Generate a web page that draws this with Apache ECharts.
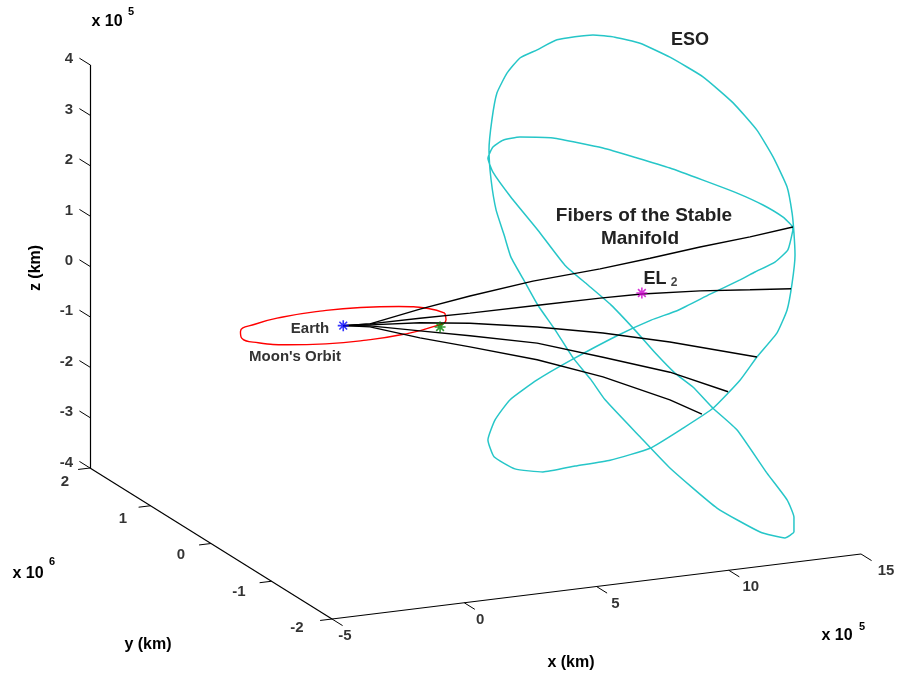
<!DOCTYPE html>
<html>
<head>
<meta charset="utf-8">
<script src="https://cdn.jsdelivr.net/npm/echarts@6/dist/echarts.min.js"></script>
<style>html,body{margin:0;padding:0;background:#fff}#c{width:904px;height:683px}</style>
</head>
<body>
<div id="c"></div>
<script>
// ---- data (x, y, z in units of 1e5 km; the y axis is labelled in 1e6 km) ----
const xTicks = [-5, 0, 5, 10, 15];          // x 10^5
const yTicks = [-2, -1, 0, 1, 2];           // x 10^6
const zTicks = [-4, -3, -2, -1, 0, 1, 2, 3, 4]; // x 10^5

const earth = [0, 0, 0];
const moon = [2.99, -2.93, 0];
const el2 = [11.29, 0, -0.08];

const moonOrbit = [
  [3.84,0,0],[3.55,1.47,0],[2.72,2.72,0],[1.47,3.55,0],[0,3.84,0],[-1.47,3.55,0],
  [-2.72,2.72,0],[-3.55,1.47,0],[-3.84,0,0],[-3.55,-1.47,0],[-2.72,-2.72,0],
  [-1.47,-3.55,0],[0,-3.84,0],[1.47,-3.55,0],[2.72,-2.72,0],[3.55,-1.47,0],[3.84,0,0]
];

const eso = [
  [17.00,0,0.80],[16.81,0,0.42],[16.32,0,0.21],[15.57,0,0.06],[15.00,0,-0.06],[13.87,0,-0.27],
  [12.66,0,-0.51],[11.64,0,-0.64],[10.39,0,-0.86],[8.61,0,-1.24],[7.33,0,-1.55],[6.30,0,-1.88],
  [5.74,0,-2.24],[5.47,0,-2.62],[5.70,0,-2.97],[6.49,0,-3.26],[7.55,0,-3.39],[8.76,0,-3.35],
  [10.09,0,-3.32],[11.60,0,-3.18],[12.85,0,-2.86],[13.98,0,-2.54],[15.00,0,-2.05],[15.64,0,-1.63],
  [16.40,0,-1.20],[16.78,0,-0.77],[16.97,0,-0.25],[17.08,0,0.30],[17.04,0,0.74],[16.97,0,1.14],
  [16.78,0,1.67],[16.25,0,2.30],[15.64,0,2.87],[14.74,0,3.47],[13.60,0,4.06],[12.35,0,4.53],
  [11.22,0,4.88],[10.27,0,5.06],[9.44,0,5.16],[8.08,0,5.15],[7.33,0,5.00],[6.68,0,4.88],
  [6.19,0,4.61],[5.81,0,4.24],[5.62,0,3.72],[5.51,0,3.13],[5.59,0,2.53],[5.78,0,1.92],
  [6.08,0,1.41],[6.34,0,0.95],[6.87,0,0.42],[7.36,0,-0.07],[8.01,0,-0.60],[8.69,0,-1.20],
  [9.37,0,-1.68],[9.90,0,-2.11],[11.22,0,-2.93],[12.35,0,-3.62],[14.13,0,-4.53],[15.76,0,-5.11],
  [16.70,0,-5.29],[17.04,0,-5.19],[17.04,0,-4.90],[16.78,0,-4.54],[16.02,0,-3.96],[14.89,0,-3.03],
  [13.98,0,-2.54],[13.22,0,-2.07],[12.54,0,-1.75],[11.79,0,-1.30],[11.03,0,-0.80],[10.12,0,-0.24],
  [9.25,0,0.21],[8.38,0,0.66],[7.36,0,1.42],[6.34,0,2.14],[5.66,0,2.68],[5.47,0,2.97],
  [5.66,0,3.18],[6.04,0,3.29],[6.68,0,3.31],[7.93,0,3.21],[9.82,0,2.89],[11.11,0,2.61],
  [12.35,0,2.33],[13.60,0,2.01],[14.89,0,1.67],[15.87,0,1.37],[16.63,0,1.08],[16.97,0,0.88],
  [17.00,0,0.80]
];

const fiber1 = [[0,0,0],[1.01,0,-0.03],[2.90,0,0.14],[4.79,0,0.28],[7.17,0,0.42],[9.71,0,0.50],[11.60,0,0.59],[13.49,0,0.69],[15.38,0,0.77],[17.00,0,0.86]];
const fiber2 = [[0,0,0],[1.01,0,-0.03],[2.90,0,-0.04],[4.79,0,-0.06],[7.44,0,-0.07],[9.71,0,-0.08],[11.29,0,-0.10],[13.49,0,-0.18],[15.38,0,-0.28],[16.93,0,-0.36]];
const fiber3 = [[0,0,0],[1.01,0,-0.05],[2.90,0,-0.13],[4.79,0,-0.26],[7.33,0,-0.50],[9.82,0,-0.78],[12.35,0,-1.12],[15.64,0,-1.63]];
const fiber4 = [[0,0,0],[1.01,0,-0.07],[2.90,0,-0.29],[4.79,0,-0.51],[7.33,0,-0.82],[9.82,0,-1.26],[12.35,0,-1.72],[14.55,0,-2.25]];
const fiber5 = [[0,0,0],[1.01,0,-0.09],[2.90,0,-0.43],[4.79,0,-0.73],[7.33,0,-1.15],[9.82,0,-1.65],[12.35,0,-2.27],[13.56,0,-2.63]];

// ---- orthographic view projection (3-D data -> plane of the hidden 2-D axes) ----
const C0 = [332, 619], EX = [26.45, -3.25], EY = [-6.05, -3.775], EZ = [0, -50.4];
function P(x, y, z) {
  const dx = x + 5, dy = y + 20, dz = z + 4;
  return [C0[0] + dx*EX[0] + dy*EY[0] + dz*EZ[0], C0[1] + dx*EX[1] + dy*EY[1] + dz*EZ[1]];
}
const proj = arr => arr.map(p => P(p[0], p[1], p[2]));
const seg = (a, b) => ({coords: [P(a[0],a[1],a[2]), P(b[0],b[1],b[2])]});

const FONT = '"Liberation Sans", Arial, Helvetica, sans-serif';

const axisSegs = [
  seg([-5,20,-4],[-5,20,4]),
  seg([-5,20,-4],[-5,-20,-4]),
  seg([-5,-20,-4],[15,-20,-4])
];
const tickSegs = [].concat(
  zTicks.map(z => seg([-5,20,z],[-5,21.75,z])),
  yTicks.map(y => seg([-5,y*10,-4],[-5.45,y*10,-4])),
  xTicks.map(x => seg([x,-20,-4],[x,-21.75,-4]))
);

const zLab = zTicks.map(z => ({name: String(z), value: P(-5,20,z)}));
const yLab = yTicks.map(y => ({name: String(y), value: P(-5,y*10,-4),
  label: {offset: [-30 + 2.5*y, 11.5 + 1.25*y]}}));
const xLab = xTicks.map(x => ({name: String(x), value: P(x,-20,-4),
  label: {offset: [16 + 0.6*x, 17]}}));

const STAR = 'path://M5,0L5,10M0,5L10,5M1.5,1.5L8.5,8.5M1.5,8.5L8.5,1.5';
function star(pt, color) {
  return {type: 'scatter', data: [P(pt[0],pt[1],pt[2])], symbol: STAR, symbolSize: 11,
    itemStyle: {color: 'none', borderColor: color, borderWidth: 1.6}, z: 10};
}
function lineS(pts, color, w, smooth) {
  return {type: 'line', data: proj(pts), symbol: 'none', smooth: smooth || false,
    lineStyle: {color: color, width: w}, z: 3};
}
const labelBase = {show: true, formatter: '{b}', color: '#000', fontSize: 15, fontWeight: 'bold', fontFamily: FONT};

const chart = echarts.init(document.getElementById('c'));
chart.setOption({
  animation: false,
  backgroundColor: '#fff',
  grid: {left: 0, right: 0, top: 0, bottom: 0},
  xAxis: {type: 'value', min: 0, max: 904, show: false},
  yAxis: {type: 'value', min: 0, max: 683, inverse: true, show: false},
  series: [
    {type: 'lines', coordinateSystem: 'cartesian2d', data: axisSegs, lineStyle: {color: '#000', width: 1.2, opacity: 1}, z: 2},
    {type: 'lines', coordinateSystem: 'cartesian2d', data: tickSegs, lineStyle: {color: '#000', width: 1, opacity: 1}, z: 2},
    lineS(moonOrbit, '#ff0000', 1.4, true),
    lineS(eso, '#26c6c8', 1.5, 0.15),
    lineS(fiber1, '#000', 1.4),
    lineS(fiber2, '#000', 1.4),
    lineS(fiber3, '#000', 1.4),
    lineS(fiber4, '#000', 1.4),
    lineS(fiber5, '#000', 1.4),
    star(earth, '#0000ff'),
    star(moon, '#008000'),
    star(el2, '#cc00cc'),
    {type: 'scatter', data: zLab, symbolSize: 0,
      label: Object.assign({}, labelBase, {position: 'left', distance: 17, offset: [0, -5.5]})},
    {type: 'scatter', data: yLab, symbolSize: 0,
      label: Object.assign({}, labelBase, {position: 'inside'})},
    {type: 'scatter', data: xLab, symbolSize: 0,
      label: Object.assign({}, labelBase, {position: 'inside'})}
  ],
  graphic: [
    {type: 'text', x: 107, y: 22, style: {text: 'x 10', font: 'bold 16px ' + FONT, fill: '#000', align: 'center', verticalAlign: 'middle'}},
    {type: 'text', x: 131, y: 12, style: {text: '5', font: 'bold 11px ' + FONT, fill: '#000', align: 'center', verticalAlign: 'middle'}},
    {type: 'text', x: 28, y: 574, style: {text: 'x 10', font: 'bold 16px ' + FONT, fill: '#000', align: 'center', verticalAlign: 'middle'}},
    {type: 'text', x: 52, y: 562, style: {text: '6', font: 'bold 11px ' + FONT, fill: '#000', align: 'center', verticalAlign: 'middle'}},
    {type: 'text', x: 837, y: 636, style: {text: 'x 10', font: 'bold 16px ' + FONT, fill: '#000', align: 'center', verticalAlign: 'middle'}},
    {type: 'text', x: 862, y: 627, style: {text: '5', font: 'bold 11px ' + FONT, fill: '#000', align: 'center', verticalAlign: 'middle'}},
    {type: 'text', x: 36, y: 268, rotation: Math.PI/2, style: {text: 'z (km)', font: 'bold 16px ' + FONT, fill: '#000', align: 'center', verticalAlign: 'middle'}},
    {type: 'text', x: 148, y: 645, style: {text: 'y (km)', font: 'bold 16px ' + FONT, fill: '#000', align: 'center', verticalAlign: 'middle'}},
    {type: 'text', x: 571, y: 663, style: {text: 'x (km)', font: 'bold 16px ' + FONT, fill: '#000', align: 'center', verticalAlign: 'middle'}},
    {type: 'text', x: 690, y: 40, style: {text: 'ESO', font: 'bold 18px ' + FONT, fill: '#222', align: 'center', verticalAlign: 'middle'}},
    {type: 'text', x: 644, y: 216, style: {text: 'Fibers of the Stable', font: 'bold 19px ' + FONT, fill: '#222', align: 'center', verticalAlign: 'middle'}},
    {type: 'text', x: 640, y: 239, style: {text: 'Manifold', font: 'bold 19px ' + FONT, fill: '#222', align: 'center', verticalAlign: 'middle'}},
    {type: 'text', x: 655, y: 279, style: {text: 'EL', font: 'bold 18px ' + FONT, fill: '#222', align: 'center', verticalAlign: 'middle'}},
    {type: 'text', x: 674, y: 283, style: {text: '2', font: 'bold 12px ' + FONT, fill: '#444', align: 'center', verticalAlign: 'middle'}},
    {type: 'text', x: 310, y: 329, style: {text: 'Earth', font: 'bold 15px ' + FONT, fill: '#333', align: 'center', verticalAlign: 'middle'}},
    {type: 'text', x: 295, y: 357, style: {text: "Moon's Orbit", font: 'bold 15px ' + FONT, fill: '#333', align: 'center', verticalAlign: 'middle'}}
  ]
});
</script>
</body>
</html>
